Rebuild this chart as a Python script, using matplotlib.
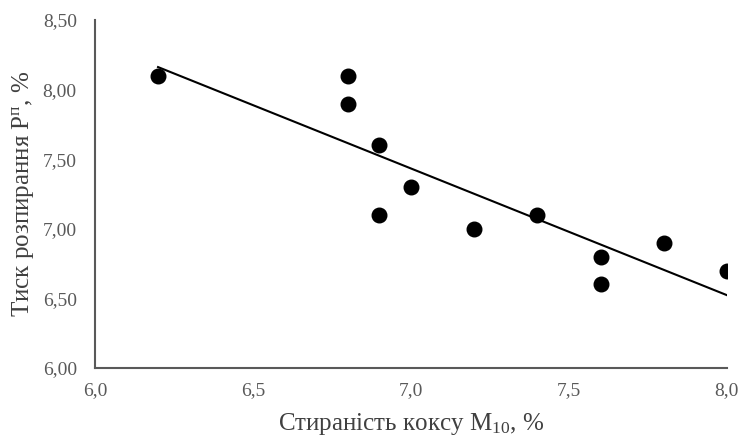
import numpy as np
import matplotlib
matplotlib.use('Agg')
import matplotlib.pyplot as plt

plt.rcParams['font.family'] = ['Liberation Serif', 'DejaVu Serif']
plt.rcParams['mathtext.fontset'] = 'custom'
plt.rcParams['mathtext.rm'] = 'Liberation Serif'

# abrasion M10, % and swelling pressure, %
m10 = [6.2, 6.8, 6.8, 6.9, 6.9, 7.0, 7.2, 7.4, 7.6, 7.6, 7.8, 8.0]
pressure = [8.1, 8.1, 7.9, 7.6, 7.1, 7.3, 7.0, 7.1, 6.8, 6.6, 6.9, 6.7]

x_ticks = [6.0, 6.5, 7.0, 7.5, 8.0]
y_ticks = [6.0, 6.5, 7.0, 7.5, 8.0, 8.5]

gray = '#595959'

fig = plt.figure(figsize=(7.41, 4.40), dpi=100)
ax = fig.add_axes([0.128, 0.1636, 0.853, 0.791])

ax.scatter(m10, pressure, s=110, color='black', zorder=3)

k, b = np.polyfit(m10, pressure, 1)
xs = np.array([min(m10), max(m10)])
ax.plot(xs, k * xs + b, color='black', lw=1.5, zorder=2)

ax.set_xlim(6.0, 8.0)
ax.set_ylim(6.0, 8.5)
ax.set_xticks(x_ticks)
ax.set_yticks(y_ticks)
ax.set_xticklabels([f'{v:.1f}'.replace('.', ',') for v in x_ticks])
ax.set_yticklabels([f'{v:.2f}'.replace('.', ',') for v in y_ticks])
ax.tick_params(length=0, labelsize=14, colors=gray)
ax.tick_params(axis='y', pad=13)
ax.tick_params(axis='x', pad=10)

for s in ['top', 'right']:
    ax.spines[s].set_visible(False)
for s in ['left', 'bottom']:
    ax.spines[s].set_color(gray)
    ax.spines[s].set_linewidth(1.5)

ax.set_xlabel('Стиранiсть коксу $\\mathregular{M_{10}}$, %', fontsize=18, color='#404040', labelpad=9)
ax.set_ylabel('Тиск розпирання $\\mathregular{Р^{п}}$, %', fontsize=18, color='#404040', labelpad=5)

fig.savefig('out.png', dpi=100)
